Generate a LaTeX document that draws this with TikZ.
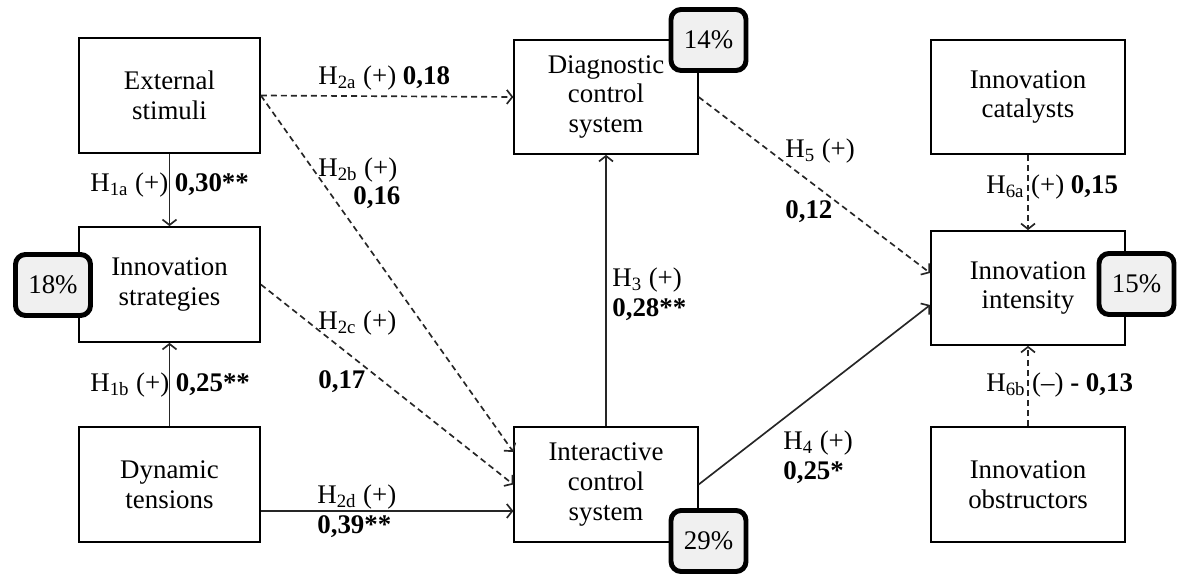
\documentclass[tikz,border=0pt]{standalone}
\usepackage{fontspec}
\setmainfont{Liberation Serif}
\usepackage{tikz}
\usetikzlibrary{arrows.meta, positioning}

\begin{document}
\begin{tikzpicture}[>={Straight Barb[length=1.1mm,width=2.8mm]},
    font=\fontsize{15.3pt}{17pt}\selectfont,
    factor/.style={draw, line width=1pt, minimum width=3.62cm, minimum height=2.3cm, align=center, inner sep=0pt},
    factorw/.style={factor, minimum width=3.88cm},
    rsq/.style={draw, line width=2.8pt, rounded corners=0.2cm, fill=gray!12, minimum width=1.5cm, minimum height=1.22cm, inner sep=0pt},
    lbl/.style={anchor=west, inner sep=0pt, align=left},
    hyp/.style={->, line width=0.95pt, draw=black!85},
    hypdash/.style={hyp, dash pattern=on 3.4pt off 2.3pt}]

    \useasboundingbox (0,0) rectangle (23.56,11.52);

    % =================================================================
    % CONSTRUCTS
    % =================================================================
    % Left column
    \node[factor] (ext) at (3.39,9.61) {External\\stimuli};
    \node[factor] (strat) at (3.39,5.83) {Innovation\\strategies};
    \node[factor] (dyn) at (3.39,1.83) {Dynamic\\tensions};

    % Middle column
    \node[factor, minimum width=3.67cm, minimum height=2.28cm] (diag) at (12.12,9.58) {Diagnostic\\control\\system};
    \node[factor, minimum width=3.67cm] (inter) at (12.12,1.83) {Interactive\\control\\system};

    % Right column
    \node[factorw, minimum height=2.28cm] (cat) at (20.56,9.58) {Innovation\\catalysts};
    \node[factorw, minimum height=2.28cm] (inten) at (20.56,5.76) {Innovation\\intensity};
    \node[factorw] (obst) at (20.56,1.83) {Innovation\\obstructors};

    % =================================================================
    % EXPLAINED VARIANCE
    % =================================================================
    \node[rsq] (r18) at (1.06,5.82) {18\%};
    \node[rsq] (r14) at (14.17,10.72) {14\%};
    \node[rsq] (r29) at (14.17,0.70) {29\%};
    \node[rsq] (r15) at (22.73,5.84) {15\%};

    % =================================================================
    % HYPOTHESES
    % =================================================================
    \draw[hyp] (ext) -- (strat);
    \draw[hyp] (dyn) -- (strat);
    \draw[hypdash] (ext.east) -- (diag.west);
    \draw[hypdash] (ext.east) -- ([yshift=0.65cm]inter.west);
    \draw[hypdash] (strat.east) -- (inter.west);
    \draw[hyp] ([yshift=-0.53cm]dyn.east) -- ([yshift=-0.53cm]inter.west);
    \draw[hyp] (inter) -- (diag);
    \draw[hypdash] (diag.east) -- ([yshift=0.3cm]inten.west);
    \draw[hyp] (inter.east) -- ([yshift=-0.34cm]inten.west);
    \draw[hypdash] (cat) -- (inten);
    \draw[hypdash] (obst) -- (inten);

    % =================================================================
    % PATH COEFFICIENTS
    % =================================================================
    \node[lbl] (l1a) at (1.8,7.82) {H\textsubscript{1a} (+) \textbf{0,30**}};
    \node[lbl] (l1b) at (1.8,3.82) {H\textsubscript{1b} (+) \textbf{0,25**}};
    \node[lbl] (l2a) at (6.36,9.96) {H\textsubscript{2a} (+) \textbf{0,18}};
    \node[lbl] (l2b) at (6.36,8.12) {H\textsubscript{2b} (+)};
    \node[lbl] (v2b) at (7.06,7.56) {\textbf{0,16}};
    \node[lbl] (l2c) at (6.36,5.06) {H\textsubscript{2c} (+)};
    \node[lbl] (v2c) at (6.36,3.88) {\textbf{0,17}};
    \node[lbl] (l2d) at (6.34,1.3) {H\textsubscript{2d} (+)\\\textbf{0,39**}};
    \node[lbl] (l3) at (12.24,5.64) {H\textsubscript{3} (+)\\\textbf{0,28**}};
    \node[lbl] (l5) at (15.7,8.5) {H\textsubscript{5} (+)};
    \node[lbl] (v5) at (15.7,7.28) {\textbf{0,12}};
    \node[lbl] (l4) at (15.66,2.37) {H\textsubscript{4} (+)\\\textbf{0,25*}};
    \node[lbl] (l6a) at (19.72,7.78) {H\textsubscript{6a} (+) \textbf{0,15}};
    \node[lbl] (l6b) at (19.72,3.82) {H\textsubscript{6b} (--) \textbf{- 0,13}};

\end{tikzpicture}
\end{document}
